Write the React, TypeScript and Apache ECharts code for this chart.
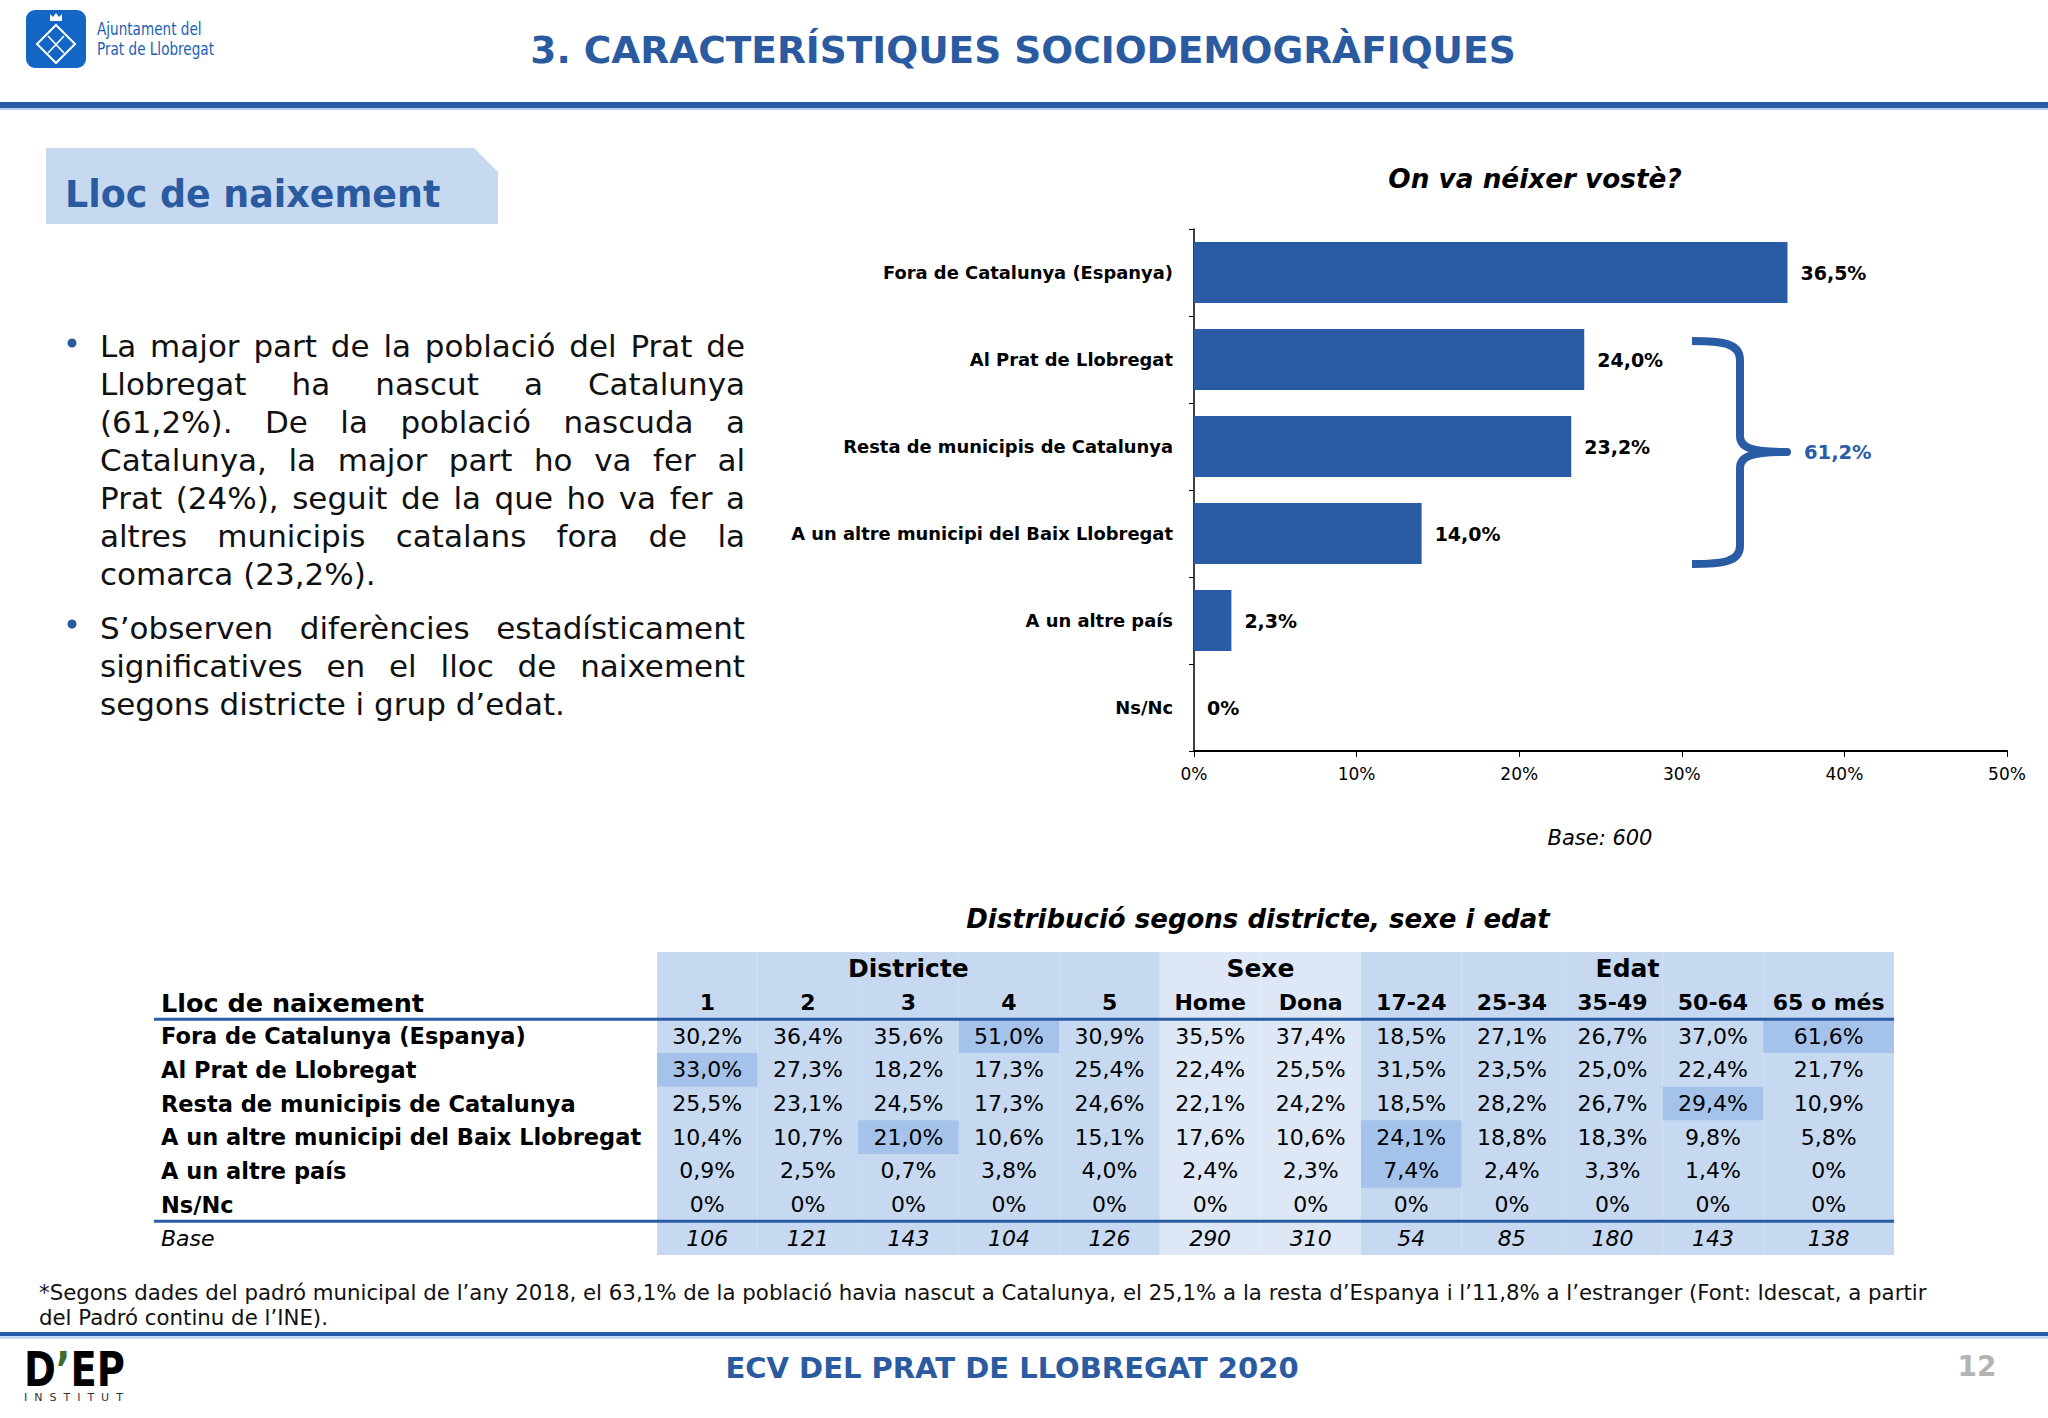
import React, { useEffect, useRef } from "react";
import * as echarts from "echarts";

// ---------- DATA ----------
const barCategories = [
  "Fora de Catalunya (Espanya)",
  "Al Prat de Llobregat",
  "Resta de municipis de Catalunya",
  "A un altre municipi del Baix Llobregat",
  "A un altre país",
  "Ns/Nc",
];
const barValues = [36.5, 24.0, 23.2, 14.0, 2.3, 0];
const braceTotal = 61.2;
const baseTotal = 600;

const groupNames = ["Districte", "Sexe", "Edat"];
const groupSpans = [5, 2, 5];
const colLabels = ["1", "2", "3", "4", "5", "Home", "Dona", "17-24", "25-34", "35-49", "50-64", "65 o més"];
const tableRowLabels = barCategories;
const tableValues = [
  [30.2, 36.4, 35.6, 51.0, 30.9, 35.5, 37.4, 18.5, 27.1, 26.7, 37.0, 61.6],
  [33.0, 27.3, 18.2, 17.3, 25.4, 22.4, 25.5, 31.5, 23.5, 25.0, 22.4, 21.7],
  [25.5, 23.1, 24.5, 17.3, 24.6, 22.1, 24.2, 18.5, 28.2, 26.7, 29.4, 10.9],
  [10.4, 10.7, 21.0, 10.6, 15.1, 17.6, 10.6, 24.1, 18.8, 18.3, 9.8, 5.8],
  [0.9, 2.5, 0.7, 3.8, 4.0, 2.4, 2.3, 7.4, 2.4, 3.3, 1.4, 0],
  [0, 0, 0, 0, 0, 0, 0, 0, 0, 0, 0, 0],
];
const baseCounts = [106, 121, 143, 104, 126, 290, 310, 54, 85, 180, 143, 138];
// [row, col]
const highlightCells = [
  [0, 3],
  [0, 11],
  [1, 0],
  [2, 10],
  [3, 2],
  [3, 7],
  [4, 7],
];

const bullet1Lines = [
  "La major part de la població del Prat de",
  "Llobregat ha nascut a Catalunya",
  "(61,2%). De la població nascuda a",
  "Catalunya, la major part ho va fer al",
  "Prat (24%), seguit de la que ho va fer a",
  "altres municipis catalans fora de la",
  "comarca (23,2%).",
];
const bullet2Lines = [
  "S’observen diferències estadísticament",
  "significatives en el lloc de naixement",
  "segons districte i grup d’edat.",
];
const footnoteLines = [
  "*Segons dades del padró municipal de l’any 2018, el 63,1% de la població havia nascut a Catalunya, el 25,1% a la resta d’Espanya i l’11,8% a l’estranger (Font: Idescat, a partir",
  "del Padró continu de l’INE).",
];

// ---------- LAYOUT / STYLE ----------
const FONT = "DejaVu Sans";
const BLUE = "#2a5ca6";
const TITLE_BLUE = "#2a5aa0";
const BG_A = "#c6d9f1";
const BG_B = "#dde7f5";
const HL = "#a5c3ea";
const colWidths = [1, 1, 1, 1, 1, 1, 1, 1, 1, 1, 1, 1.3];
const colStarts: number[] = [];
colWidths.reduce((acc, w) => {
  colStarts.push(acc);
  return acc + w;
}, 0);
const totalUnits = colWidths.reduce((a, b) => a + b, 0);

const fmt = (v: number) => (v === 0 ? "0%" : v.toFixed(1).replace(".", ",") + "%");

const braceD =
  "M1692,341 C1722,341 1740,343 1740,360 L1740,436 C1740,448 1752,452 1787,452 C1752,452 1740,456 1740,468 L1740,546 C1740,562 1722,564 1692,564";
echarts.graphic.registerShape("brace", echarts.graphic.extendPath(braceD, {}));

function txt(x: number, y: number, text: string, o: any = {}) {
  return {
    type: "text",
    x,
    y,
    scaleX: o.scaleX ?? 1,
    style: {
      text,
      fontFamily: FONT,
      fontSize: o.size ?? 16,
      fontWeight: o.weight ?? "normal",
      fontStyle: o.fstyle ?? "normal",
      fill: o.color ?? "#000",
      align: o.align ?? "left",
      verticalAlign: "middle",
      rich: o.rich,
    },
  };
}

// table derived data
const tableRowKeys = ["", "Lloc de naixement", ...tableRowLabels, "Base"];
const colGroupIndex: number[] = [];
groupSpans.forEach((s, g) => {
  for (let i = 0; i < s; i++) colGroupIndex.push(g);
});
type Cell = { x: number; r: number; text: string; kind: string };
const cells: Cell[] = [];
let gStart = 0;
groupNames.forEach((g, gi) => {
  const s = colStarts[gStart];
  const e = colStarts[gStart + groupSpans[gi] - 1] + colWidths[gStart + groupSpans[gi] - 1];
  cells.push({ x: (s + e) / 2, r: 0, text: g, kind: "g" });
  gStart += groupSpans[gi];
});
colLabels.forEach((c, i) => cells.push({ x: colStarts[i] + colWidths[i] / 2, r: 1, text: c, kind: "h" }));
tableValues.forEach((row, ri) =>
  row.forEach((v, ci) => cells.push({ x: colStarts[ci] + colWidths[ci] / 2, r: ri + 2, text: fmt(v), kind: "v" }))
);
baseCounts.forEach((b, ci) =>
  cells.push({ x: colStarts[ci] + colWidths[ci] / 2, r: tableRowKeys.length - 1, text: String(b), kind: "i" })
);

function buildOption() {
  const graphic: any[] = [
    // Ajuntament logo
    { type: "rect", shape: { x: 26, y: 10, width: 60, height: 58, r: 9 }, style: { fill: "#1466c6" } },
    {
      type: "polygon",
      shape: { points: [[56, 25], [75, 44], [56, 63], [37, 44]] },
      style: { fill: "none", stroke: "#fff", lineWidth: 2 },
    },
    {
      type: "polygon",
      shape: { points: [[50, 21], [50, 14], [53, 17], [56, 13], [59, 17], [62, 14], [62, 21]] },
      style: { fill: "#fff" },
    },
    { type: "line", shape: { x1: 48, y1: 36, x2: 64, y2: 53 }, style: { stroke: "#fff", lineWidth: 1.6 } },
    { type: "line", shape: { x1: 64, y1: 36, x2: 48, y2: 53 }, style: { stroke: "#fff", lineWidth: 1.6 } },
    txt(97, 29, "Ajuntament del", { size: 17, scaleX: 0.8, color: "#1a5fb4" }),
    txt(97, 49, "Prat de Llobregat", { size: 17, scaleX: 0.8, color: "#1a5fb4" }),
    // Page title
    txt(1023, 50, "3. CARACTERÍSTIQUES SOCIODEMOGRÀFIQUES", { size: 37.5, weight: "bold", color: TITLE_BLUE, align: "center" }),
    { type: "rect", shape: { x: 0, y: 102, width: 2048, height: 6 }, style: { fill: "#285ca8" } },
    { type: "rect", shape: { x: 0, y: 108, width: 2048, height: 2 }, style: { fill: "#b9cfee" } },
    // Section box
    {
      type: "polygon",
      shape: { points: [[46, 148], [474, 148], [498, 172], [498, 224], [46, 224]] },
      style: { fill: BG_A },
    },
    txt(65, 194, "Lloc de naixement", { size: 36.4, weight: "bold", color: TITLE_BLUE }),
    // bullets
    { type: "circle", shape: { cx: 72, cy: 343, r: 4.5 }, style: { fill: TITLE_BLUE } },
    { type: "circle", shape: { cx: 72, cy: 624, r: 4.5 }, style: { fill: TITLE_BLUE } },
    // Bar chart title etc
    txt(1535, 179, "On va néixer vostè?", { size: 26.3, weight: "bold", fstyle: "italic", align: "center" }),
    txt(1600, 838, "Base: " + baseTotal, { size: 21, fstyle: "italic", align: "center" }),
    {
      type: "brace",
      x: 0,
      y: 0,
      style: { fill: "none", stroke: BLUE, lineWidth: 8, lineJoin: "round" },
    },
    txt(1804, 452, fmt(braceTotal), { size: 19.5, weight: "bold", color: BLUE }),
    // table title
    txt(1258, 919, "Distribució segons districte, sexe i edat", { size: 26, weight: "bold", fstyle: "italic", align: "center" }),
    // footnote
    txt(39, 1292, footnoteLines[0], { size: 21.3, color: "#111" }),
    txt(39, 1317, footnoteLines[1], { size: 21.3, color: "#111" }),
    // footer
    { type: "rect", shape: { x: 0, y: 1332, width: 2048, height: 4 }, style: { fill: "#285ca8" } },
    { type: "rect", shape: { x: 0, y: 1336, width: 2048, height: 3 }, style: { fill: "#c6d9f1" } },
    txt(1012, 1368, "ECV DEL PRAT DE LLOBREGAT 2020", { size: 29, weight: "bold", color: TITLE_BLUE, align: "center" }),
    txt(1977, 1366, "12", { size: 28, weight: "bold", color: "#b3b3b3", align: "center" }),
    {
      type: "text",
      x: 24,
      y: 1369,
      scaleX: 0.8,
      style: {
        text: "{a|D}{g|’}{a|EP}",
        verticalAlign: "middle",
        rich: {
          a: { fontFamily: FONT, fontSize: 48, fontWeight: "bold", fill: "#000" },
          g: { fontFamily: FONT, fontSize: 48, fontWeight: "bold", fill: "#3f6b2a" },
        },
      },
    },
    txt(24, 1397, "I  N  S  T  I  T  U  T", { size: 11, color: "#333" }),
  ];

  return {
    animation: false,
    backgroundColor: "#fff",
    textStyle: { fontFamily: FONT },
    grid: [
      { left: 1194, top: 229, width: 813, height: 522, containLabel: false },
      { left: 657, top: 952, width: 1237, height: 303, containLabel: false },
    ],
    xAxis: [
      {
        gridIndex: 0,
        type: "value",
        min: 0,
        max: 50,
        interval: 10,
        axisLine: { show: true, lineStyle: { color: "#000", width: 2 } },
        axisTick: { show: true, length: 6, lineStyle: { color: "#000" } },
        splitLine: { show: false },
        axisLabel: { formatter: "{value}%", fontFamily: FONT, fontSize: 17, color: "#000", margin: 14 },
      },
      { gridIndex: 1, type: "value", min: 0, max: totalUnits, show: false },
    ],
    yAxis: [
      {
        gridIndex: 0,
        type: "category",
        data: barCategories,
        inverse: true,
        axisLine: { show: true, lineStyle: { color: "#000", width: 1.5 } },
        axisTick: { show: true, length: 5, lineStyle: { color: "#000" } },
        axisLabel: { fontFamily: FONT, fontWeight: "bold", fontSize: 17.9, color: "#000", margin: 21 },
      },
      {
        gridIndex: 1,
        type: "category",
        data: tableRowKeys,
        inverse: true,
        axisLine: { show: false },
        axisTick: { show: false },
        splitLine: { show: false },
        axisLabel: {
          margin: 496,
          align: "left",
          formatter: (v: string, i: number) => {
            if (i === 0) return "";
            if (i === 1) return "{h|" + v + "}";
            if (i === tableRowKeys.length - 1) return "{i|" + v + "}";
            return "{b|" + v + "}";
          },
          rich: {
            h: { fontFamily: FONT, fontSize: 25.5, fontWeight: "bold", color: "#000" },
            b: { fontFamily: FONT, fontSize: 22.5, fontWeight: "bold", color: "#000" },
            i: { fontFamily: FONT, fontSize: 22, fontStyle: "italic", color: "#000" },
          },
        },
      },
    ],
    series: [
      {
        type: "bar",
        name: "Lloc de naixement",
        xAxisIndex: 0,
        yAxisIndex: 0,
        data: barValues,
        barCategoryGap: "30%",
        itemStyle: { color: BLUE },
        label: {
          show: true,
          position: "right",
          distance: 13,
          formatter: (p: any) => fmt(p.value),
          fontFamily: FONT,
          fontWeight: "bold",
          fontSize: 19,
          color: "#000",
        },
      },
      {
        type: "custom",
        name: "tableBg",
        xAxisIndex: 1,
        yAxisIndex: 1,
        data: colWidths.map((w, i) => [colStarts[i] + w / 2, 0]),
        renderItem: (params: any, api: any) => {
          const i = params.dataIndex;
          const cs = params.coordSys;
          const x0 = api.coord([colStarts[i], 0])[0];
          const x1 = api.coord([colStarts[i] + colWidths[i], 0])[0];
          return {
            type: "rect",
            shape: { x: x0, y: cs.y, width: x1 - x0, height: cs.height },
            style: { fill: colGroupIndex[i] === 1 ? BG_B : BG_A },
          };
        },
        silent: true,
      },
      {
        type: "custom",
        name: "highlight",
        xAxisIndex: 1,
        yAxisIndex: 1,
        data: highlightCells.map(([r, c]) => [colStarts[c] + colWidths[c] / 2, r + 2]),
        renderItem: (params: any, api: any) => {
          const [, c] = highlightCells[params.dataIndex];
          const r = api.value(1);
          const h = api.size([0, 1])[1];
          const cy = api.coord([0, r])[1];
          const x0 = api.coord([colStarts[c], r])[0];
          const x1 = api.coord([colStarts[c] + colWidths[c], r])[0];
          return { type: "rect", shape: { x: x0, y: cy - h / 2, width: x1 - x0, height: h }, style: { fill: HL } };
        },
        silent: true,
      },
      {
        type: "custom",
        name: "rules",
        xAxisIndex: 1,
        yAxisIndex: 1,
        data: [
          [0, 2],
          [0, tableRowKeys.length - 1],
        ],
        renderItem: (params: any, api: any) => {
          const cs = params.coordSys;
          const r = api.value(1);
          const h = api.size([0, 1])[1];
          const y = api.coord([0, r])[1] - h / 2;
          return {
            type: "line",
            shape: { x1: cs.x - 503, y1: y, x2: cs.x + cs.width, y2: y },
            style: { stroke: BLUE, lineWidth: 3 },
          };
        },
        silent: true,
      },
      {
        type: "custom",
        name: "cells",
        xAxisIndex: 1,
        yAxisIndex: 1,
        data: cells.map((c) => [c.x, c.r]),
        renderItem: (params: any, api: any) => {
          const c = cells[params.dataIndex];
          const pt = api.coord([api.value(0), api.value(1)]);
          const size = c.kind === "g" ? 25 : 22;
          return {
            type: "text",
            x: pt[0],
            y: pt[1],
            style: {
              text: c.text,
              fontFamily: FONT,
              fontSize: size,
              fontWeight: c.kind === "g" || c.kind === "h" ? "bold" : "normal",
              fontStyle: c.kind === "i" ? "italic" : "normal",
              fill: "#000",
              align: "center",
              verticalAlign: "middle",
            },
          };
        },
        silent: true,
      },
    ],
    graphic,
  };
}

export default function App() {
  const ref = useRef<HTMLDivElement>(null);
  useEffect(() => {
    if (!ref.current) return;
    const chart = echarts.init(ref.current, undefined, { renderer: "svg" });
    chart.setOption(buildOption() as any);
    return () => chart.dispose();
  }, []);

  const para = (lines: string[]) =>
    lines.map((l, i) => {
      const last = i === lines.length - 1;
      return (
        <div
          key={i}
          style={{
            textAlign: last ? "left" : "justify",
            textAlignLast: last ? "left" : "justify",
          } as any}
        >
          {l}
        </div>
      );
    });

  return (
    <div style={{ position: "absolute", left: 0, top: 0, width: 2048, height: 1418, background: "#fff" }}>
      <div ref={ref} style={{ position: "absolute", left: 0, top: 0, width: 2048, height: 1418 }} />
      <div
        style={{
          position: "absolute",
          left: 100,
          top: 327,
          width: 645,
          fontFamily: "DejaVu Sans",
          fontSize: 31,
          lineHeight: "38px",
          color: "#111",
        }}
      >
        {para(bullet1Lines)}
        <div style={{ height: 16 }} />
        {para(bullet2Lines)}
      </div>
    </div>
  );
}
